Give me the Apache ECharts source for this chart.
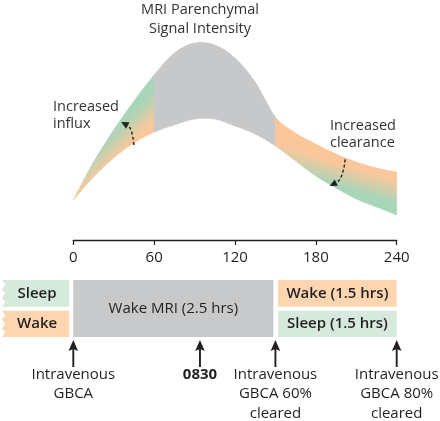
<!DOCTYPE html>
<html><head><meta charset="utf-8">
<script src="https://cdn.jsdelivr.net/npm/echarts@6/dist/echarts.min.js"></script>
<style>html,body{margin:0;padding:0;background:#fff}#c{width:440px;height:421px}</style>
</head><body><div id="c"></div>
<script>
// ---- data ----
const times = [0,15,30,45,60,75,90,105,120,135,150,165,180,195,210,225,240];
const upperSignal = [40,78,110,139,165,187,197,195,182,158,123,107,96,86,78,72,68];
const lowerSignal = [40,63,82,97,108,115,121,121,114,106,94,79,64,52,41,33,25];
const xTicks = [0,60,120,180,240];
const regionNames = ['influx','mri','clearance'];
const regionStart = [0,60,150];
const regionEnd = [60,150,240];

const boxLabels = ['Sleep','Wake','Wake MRI (2.5 hrs)','Wake (1.5 hrs)','Sleep (1.5 hrs)'];
const boxStart = [-53,-53,0,152,152];
const boxEnd = [-3,-3,148.5,240,240];
const boxRow = ['top','bottom','full','top','bottom'];
const boxState = ['sleep','wake','mri','wake','sleep'];

const eventTimes = [0,94,150,240];
const eventLabels = ['Intravenous\nGBCA','0830','Intravenous\nGBCA 60%\ncleared','Intravenous\nGBCA 80%\ncleared'];
const eventBold = [false,true,false,false];

const influxArrow = [[45,95],[35.5,118]];
const clearanceArrow = [[201.8,80.7],[190.2,54]];

// ---- styles ----
const FONT = '"Open Sans", "Noto Sans", sans-serif';
const INK = '#231f20';
const GREEN = '#a9d5b9', ORANGE = '#fbc79a', GRAY = '#c7c8ca';
const stateColor = {sleep:'#d5eadc', wake:'#fdd5b1', mri:'#c8c9cb'};
const rowSpan = {top:[0,0.94], bottom:[1.08,2], full:[0,2]};
const gradRecipe = {
  influx:    {a:30,  b:45,  dir:[1,1],    stops:[{offset:0.05,color:GREEN},{offset:0.95,color:ORANGE}]},
  clearance: {a:165, b:195, dir:[-0.3,1], stops:[{offset:0.38,color:ORANGE},{offset:0.95,color:GREEN}]}
};

const chart = echarts.init(document.getElementById('c'), null, {renderer:'canvas'});

function ctrl(P, i){
  const n = P.length;
  const p0 = P[Math.max(i-1,0)], p1 = P[i], p2 = P[i+1], p3 = P[Math.min(i+2,n-1)];
  return [[p1[0]+(p2[0]-p0[0])/6, p1[1]+(p2[1]-p0[1])/6],
          [p2[0]-(p3[0]-p1[0])/6, p2[1]-(p3[1]-p1[1])/6]];
}
function f(v){ return v.toFixed(2); }
function bandPath(api, lo, hi){
  const U = times.map((t,i)=>api.coord([t, upperSignal[i]]));
  const L = times.map((t,i)=>api.coord([t, lowerSignal[i]]));
  const a = times.indexOf(lo), b = times.indexOf(hi);
  let d = 'M' + f(U[a][0]) + ' ' + f(U[a][1]);
  for (let i=a;i<b;i++){
    const c = ctrl(U,i);
    d += ' C' + f(c[0][0])+' '+f(c[0][1])+' '+f(c[1][0])+' '+f(c[1][1])+' '+f(U[i+1][0])+' '+f(U[i+1][1]);
  }
  d += ' L' + f(L[b][0]) + ' ' + f(L[b][1]);
  for (let i=b-1;i>=a;i--){
    const c = ctrl(L,i);
    d += ' C' + f(c[1][0])+' '+f(c[1][1])+' '+f(c[0][0])+' '+f(c[0][1])+' '+f(L[i][0])+' '+f(L[i][1]);
  }
  return d + ' Z';
}
function regionFill(api, name){
  if (name === 'mri') return GRAY;
  const r = gradRecipe[name];
  const S = api.coord([r.a, upperSignal[times.indexOf(r.a)]]);
  const P = api.coord([r.b, lowerSignal[times.indexOf(r.b)]]);
  const dl = Math.hypot(r.dir[0], r.dir[1]);
  const ux = r.dir[0]/dl, uy = r.dir[1]/dl;
  const t = (P[0]-S[0])*ux + (P[1]-S[1])*uy;
  return new echarts.graphic.LinearGradient(S[0], S[1], S[0]+ux*t, S[1]+uy*t, r.stops, true);
}

function dashedArrow(api, pair){
  const s = api.coord(pair[0]), e = api.coord(pair[1]);
  const cp = [s[0] + (e[0]-s[0])*0.15, s[1] + (e[1]-s[1])*0.75];
  let dx = e[0]-cp[0], dy = e[1]-cp[1];
  const len = Math.hypot(dx,dy); dx/=len; dy/=len;
  const hl = 7.5, hw = 3.6;
  const bx = e[0]-dx*hl, by = e[1]-dy*hl;
  return {type:'group', children:[
    {type:'bezierCurve', shape:{x1:s[0], y1:s[1], cpx1:cp[0], cpy1:cp[1], x2:bx, y2:by},
     style:{stroke:INK, lineWidth:1.4, lineDash:[3,2.2], fill:null}},
    {type:'polygon', shape:{points:[[e[0],e[1]],[bx - dy*hw, by + dx*hw],[bx + dy*hw, by - dx*hw]]},
     style:{fill:INK}}
  ]};
}

const option = {
  animation:false,
  backgroundColor:'#fff',
  grid:[
    {left:73.3, right:43.3, top:40, height:200},
    {left:73.3, right:43.3, top:280, height:57}
  ],
  xAxis:[
    {type:'value', gridIndex:0, min:0, max:240, interval:60,
     axisLine:{show:true, lineStyle:{color:INK, width:1.3}},
     axisTick:{show:true, length:5, lineStyle:{color:INK, width:1.2}},
     axisLabel:{show:true, fontSize:15, color:INK, margin:10, fontFamily:FONT,
       formatter:v=> xTicks.indexOf(v)>=0 ? String(v) : ''},
     splitLine:{show:false}},
    {type:'value', gridIndex:1, min:0, max:240, show:false}
  ],
  yAxis:[
    {type:'value', gridIndex:0, min:0, max:200, show:false},
    {type:'value', gridIndex:1, min:0, max:2, inverse:true, show:false}
  ],
  graphic:[
    {type:'text', x:200, y:0.5, style:{text:'MRI Parenchymal\nSignal Intensity', font:'14.5px '+FONT, fill:'#333',
      textAlign:'center', textVerticalAlign:'top', lineHeight:19}},
    {type:'text', x:53, y:99, style:{text:'Increased\ninflux', font:'14.5px '+FONT, fill:'#333', textAlign:'left', textVerticalAlign:'top', lineHeight:16.7}},
    {type:'text', x:330, y:118, style:{text:'Increased\nclearance', font:'14.5px '+FONT, fill:'#333', textAlign:'left', textVerticalAlign:'top', lineHeight:16.7}}
  ],
  series:[
    {type:'custom', xAxisIndex:0, yAxisIndex:0, silent:true, clip:false, z:2,
     data:regionStart.map((s,i)=>[s, regionEnd[i]]),
     encode:{x:[0,1]},
     renderItem:(params, api)=>{
       const i = params.dataIndex;
       const fill = regionFill(api, regionNames[i]);
       return {type:'path', shape:{pathData: bandPath(api, regionStart[i], regionEnd[i])},
               style:{fill: fill, stroke: fill, lineWidth:0.6}};
     }},
    {type:'custom', xAxisIndex:0, yAxisIndex:0, silent:true, clip:false, z:5,
     data:[[0],[1]],
     renderItem:(params, api)=> dashedArrow(api, params.dataIndex===0 ? influxArrow : clearanceArrow)},
    {type:'custom', xAxisIndex:1, yAxisIndex:1, silent:true, clip:false, z:3,
     data:boxStart.map((s,i)=>[s, boxEnd[i], i]),
     encode:{x:[0,1]},
     renderItem:(params, api)=>{
       const i = params.dataIndex;
       const sp = rowSpan[boxRow[i]];
       const p0 = api.coord([boxStart[i], sp[0]]);
       const p1 = api.coord([boxEnd[i], sp[1]]);
       const fill = stateColor[boxState[i]];
       let shape;
       if (boxStart[i] < 0){
         const pts = [[p1[0],p0[1]],[p1[0],p1[1]]];
         const h = p1[1]-p0[1]; const n = 6;
         for (let k=0;k<=n;k++){
           const y = p1[1] - h*k/n;
           pts.push([p0[0] + (k%2 ? 3.5 : 0), y]);
         }
         shape = {type:'polygon', shape:{points:pts}, style:{fill:fill}};
       } else {
         shape = {type:'rect', shape:{x:p0[0], y:p0[1], width:p1[0]-p0[0], height:p1[1]-p0[1]}, style:{fill:fill}};
       }
       const txt = {type:'text', x:(p0[0]+p1[0])/2 + (boxStart[i]<0?1.5:0), y:(p0[1]+p1[1])/2,
         style:{text:boxLabels[i], font:(boxState[i]==='mri'?'400 ':'600 ')+'15px '+FONT, fill:INK,
                textAlign:'center', textVerticalAlign:'middle'}};
       return {type:'group', children:[shape, txt]};
     }},
    {type:'custom', xAxisIndex:1, yAxisIndex:1, silent:true, clip:false, z:4,
     data:eventTimes.map(t=>[t]),
     encode:{x:0},
     renderItem:(params, api)=>{
       const i = params.dataIndex;
       const p = api.coord([eventTimes[i], 2]);
       const x = p[0], b = p[1];
       return {type:'group', children:[
         {type:'line', shape:{x1:x, y1:b+11, x2:x, y2:b+30}, style:{stroke:INK, lineWidth:1.9}},
         {type:'polygon', shape:{points:[[x,b+3],[x-4.8,b+14],[x,b+12],[x+4.8,b+14]]}, style:{fill:INK}},
         {type:'text', x:x, y:b+28, style:{text:eventLabels[i], font:(eventBold[i]?'700 ':'400 ')+'15px '+FONT, fill:INK,
           textAlign:'center', textVerticalAlign:'top', lineHeight:19.4}}
       ]};
     }}
  ]
};
chart.setOption(option);
</script>
</body></html>
